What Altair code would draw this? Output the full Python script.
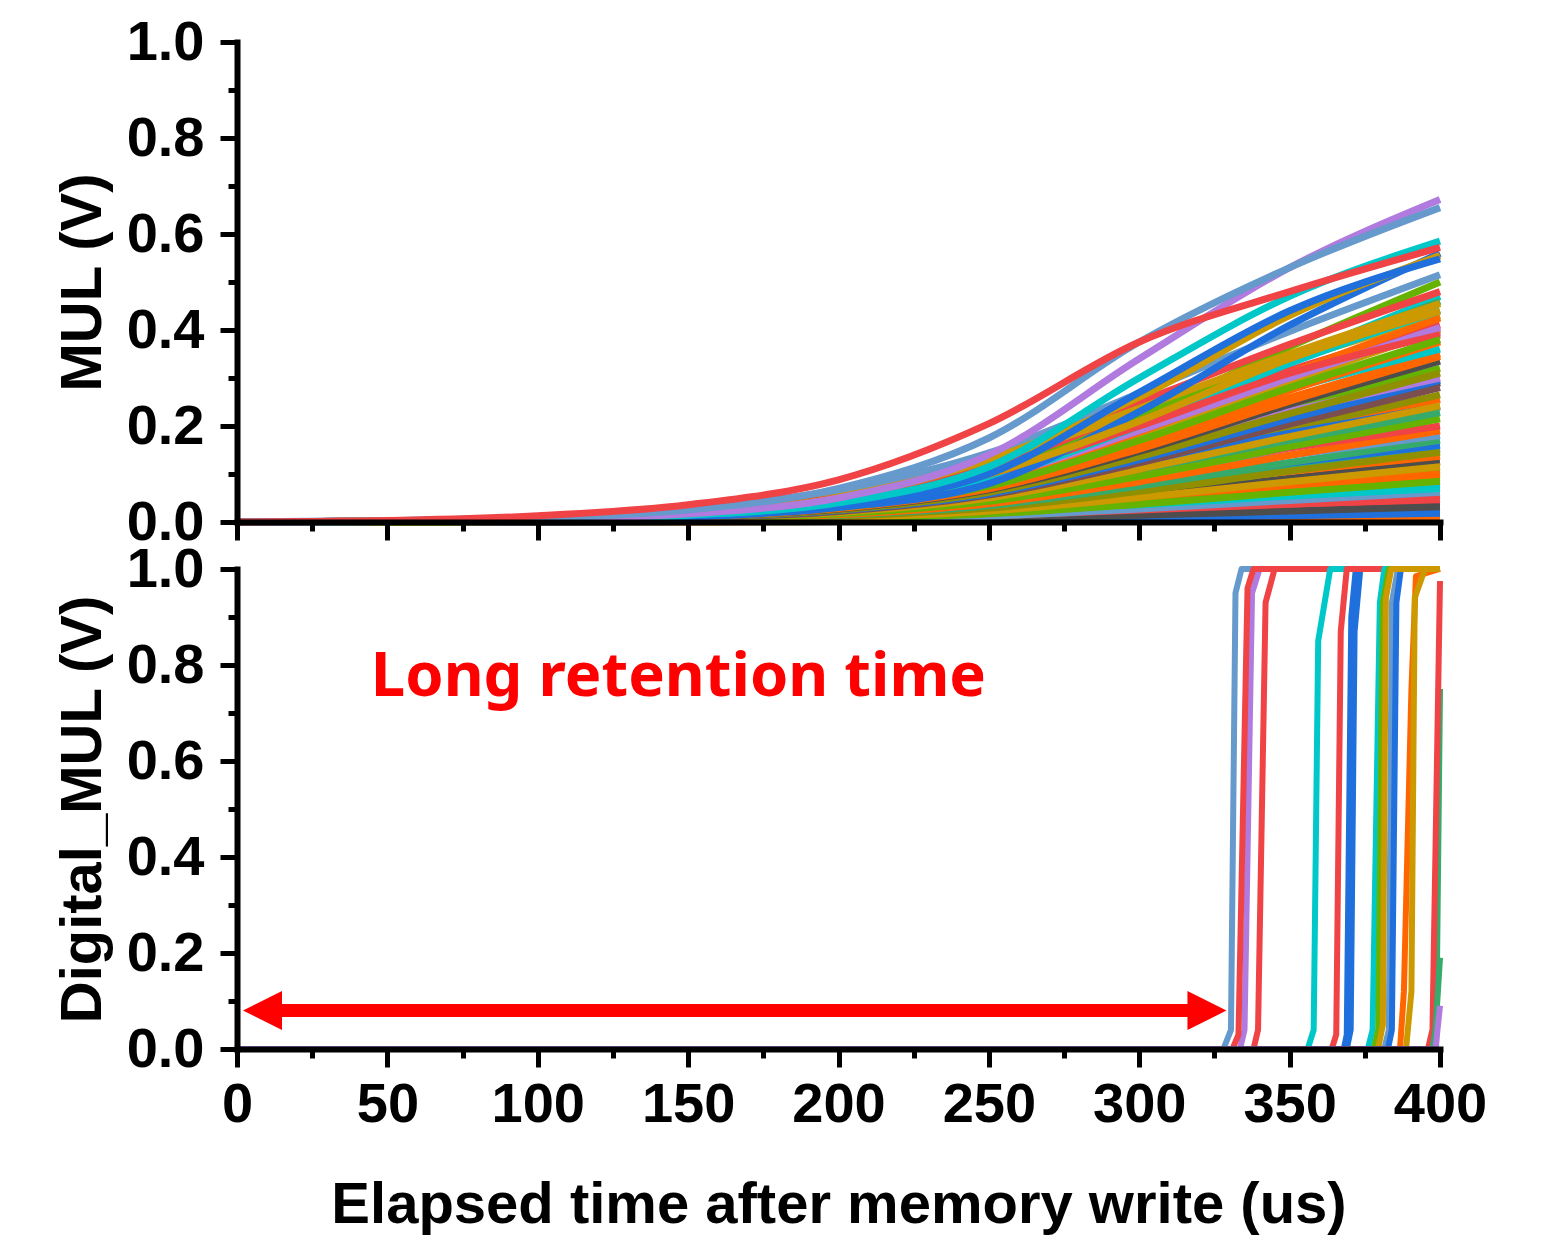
import altair as alt
import pandas as pd

# ---------------- data ----------------
mul_times = [0, 50, 100, 150, 200, 250, 300, 350, 400]

RED, SBLUE, PURPLE, CYAN, BLUE = "#EF4346", "#6699CC", "#B07ADF", "#00C8C8", "#1F6FDD"
GOLD, ORANGE, GREEN, SGREEN = "#CC9900", "#FF6600", "#66B200", "#36AA6A"
DGRAY, OLIVE, BROWN = "#4D4D4D", "#8F8F00", "#7B4F4F"

# colours and values at mul_times — lower curves first, top curves last
mul_colors = [
    SGREEN, CYAN, RED, GOLD, SBLUE, ORANGE, GREEN, DGRAY, ORANGE, SGREEN,
    ORANGE, OLIVE, DGRAY, GREEN, ORANGE, CYAN, GOLD, BLUE,
    ORANGE, BLUE, DGRAY, RED, SBLUE, CYAN, GREEN, ORANGE, GOLD, OLIVE,
    BLUE, SGREEN, SBLUE, ORANGE, RED, GREEN, SGREEN, GOLD, BROWN, BLUE,
    PURPLE, OLIVE, DGRAY, ORANGE, CYAN, ORANGE, PURPLE, GOLD, RED, ORANGE,
    SGREEN, GREEN, RED, PURPLE, GOLD, CYAN, RED, GREEN, SBLUE, BLUE,
    GOLD, GOLD, BLUE, CYAN, PURPLE, SBLUE, RED,
]
mul_values = [
    [0, 0, 0, 0, 0.001, 0.002, 0.005, 0.009, 0.012],
    [0, 0, 0, 0.001, 0.002, 0.005, 0.011, 0.018, 0.025],
    [0, 0, 0.001, 0.002, 0.004, 0.009, 0.018, 0.029, 0.04],
    [0, 0, 0.001, 0.002, 0.005, 0.011, 0.024, 0.04, 0.055],
    [0, 0, 0.001, 0.003, 0.007, 0.016, 0.034, 0.057, 0.078],
    [0, 0, 0.001, 0.004, 0.009, 0.02, 0.041, 0.067, 0.092],
    [0, 0, 0.002, 0.005, 0.012, 0.026, 0.05, 0.08, 0.108],
    [0, 0, 0.001, 0.004, 0.01, 0.025, 0.055, 0.091, 0.125],
    [0, 0.001, 0.003, 0.008, 0.018, 0.038, 0.071, 0.105, 0.137],
    [0, 0, 0.002, 0.005, 0.013, 0.031, 0.067, 0.111, 0.152],
    [0, 0.001, 0.004, 0.012, 0.03, 0.065, 0.12, 0.19, 0.255],
    [0, 0.001, 0.003, 0.008, 0.021, 0.053, 0.117, 0.194, 0.265],
    [0, 0.001, 0.003, 0.008, 0.022, 0.057, 0.127, 0.211, 0.29],
    [0, 0.001, 0.005, 0.015, 0.036, 0.08, 0.155, 0.24, 0.32],
    [0, 0.001, 0.004, 0.011, 0.029, 0.072, 0.158, 0.259, 0.35],
    [0, 0.001, 0.005, 0.015, 0.038, 0.095, 0.205, 0.34, 0.47],
    [0, 0.002, 0.008, 0.022, 0.055, 0.12, 0.225, 0.335, 0.43],
    [0, 0.001, 0.005, 0.013, 0.031, 0.067, 0.124, 0.185, 0.24],
    [0, 0, 0, 0, 0.001, 0.001, 0.003, 0.004, 0.006],
    [0, 0, 0, 0.001, 0.001, 0.004, 0.008, 0.013, 0.018],
    [0, 0, 0, 0.001, 0.003, 0.006, 0.014, 0.023, 0.032],
    [0, 0, 0.001, 0.003, 0.006, 0.013, 0.025, 0.037, 0.048],
    [0, 0, 0.001, 0.002, 0.005, 0.012, 0.027, 0.045, 0.062],
    [0, 0, 0.001, 0.004, 0.009, 0.02, 0.036, 0.054, 0.07],
    [0, 0, 0.001, 0.003, 0.007, 0.017, 0.037, 0.062, 0.085],
    [0, 0, 0.002, 0.006, 0.013, 0.028, 0.052, 0.077, 0.1],
    [0, 0, 0.001, 0.003, 0.009, 0.023, 0.051, 0.084, 0.115],
    [0, 0, 0.001, 0.004, 0.012, 0.029, 0.064, 0.106, 0.145],
    [0, 0.001, 0.003, 0.009, 0.021, 0.045, 0.083, 0.123, 0.16],
    [0, 0, 0.002, 0.005, 0.014, 0.034, 0.075, 0.124, 0.17],
    [0, 0.001, 0.004, 0.01, 0.023, 0.05, 0.094, 0.139, 0.18],
    [0, 0, 0.002, 0.006, 0.015, 0.038, 0.084, 0.139, 0.19],
    [0, 0.001, 0.004, 0.011, 0.026, 0.056, 0.104, 0.154, 0.2],
    [0, 0, 0.002, 0.006, 0.017, 0.043, 0.095, 0.157, 0.215],
    [0, 0.001, 0.005, 0.013, 0.03, 0.06, 0.11, 0.17, 0.228],
    [0, 0.001, 0.003, 0.008, 0.02, 0.05, 0.11, 0.178, 0.242],
    [0, 0.001, 0.003, 0.008, 0.022, 0.056, 0.123, 0.204, 0.28],
    [0, 0.001, 0.003, 0.009, 0.024, 0.059, 0.13, 0.215, 0.295],
    [0, 0.002, 0.006, 0.017, 0.039, 0.084, 0.156, 0.231, 0.3],
    [0, 0.001, 0.003, 0.009, 0.025, 0.062, 0.136, 0.226, 0.31],
    [0, 0.001, 0.003, 0.01, 0.027, 0.067, 0.147, 0.245, 0.335],
    [0, 0.001, 0.003, 0.01, 0.028, 0.069, 0.152, 0.252, 0.345],
    [0, 0.002, 0.007, 0.02, 0.047, 0.101, 0.187, 0.277, 0.36],
    [0, 0.001, 0.004, 0.011, 0.03, 0.075, 0.165, 0.274, 0.375],
    [0, 0.002, 0.008, 0.022, 0.051, 0.111, 0.205, 0.304, 0.395],
    [0, 0.001, 0.004, 0.012, 0.032, 0.08, 0.176, 0.292, 0.4],
    [0, 0.002, 0.008, 0.023, 0.053, 0.115, 0.213, 0.316, 0.41],
    [0, 0.001, 0.004, 0.013, 0.034, 0.085, 0.187, 0.31, 0.425],
    [0, 0.001, 0.005, 0.014, 0.037, 0.092, 0.2, 0.335, 0.46],
    [0, 0.001, 0.005, 0.015, 0.04, 0.1, 0.22, 0.365, 0.5],
    [0, 0.002, 0.01, 0.026, 0.062, 0.134, 0.25, 0.37, 0.48],
    [0, 0.001, 0.005, 0.014, 0.036, 0.09, 0.19, 0.3, 0.405],
    [0, 0.002, 0.009, 0.025, 0.06, 0.128, 0.237, 0.35, 0.455],
    [0, 0.001, 0.005, 0.014, 0.036, 0.09, 0.2, 0.33, 0.44],
    [0, 0.002, 0.008, 0.022, 0.05, 0.1, 0.2, 0.31, 0.39],
    [0, 0.001, 0.004, 0.012, 0.03, 0.075, 0.17, 0.28, 0.38],
    [0, 0.003, 0.01, 0.028, 0.067, 0.144, 0.268, 0.397, 0.515],
    [0, 0.001, 0.003, 0.01, 0.03, 0.08, 0.23, 0.41, 0.56],
    [0, 0.001, 0.005, 0.015, 0.04, 0.1, 0.21, 0.34, 0.44],
    [0, 0.002, 0.007, 0.02, 0.05, 0.13, 0.26, 0.43, 0.555],
    [0, 0.001, 0.004, 0.013, 0.036, 0.1, 0.27, 0.44, 0.548],
    [0, 0.001, 0.004, 0.014, 0.04, 0.115, 0.3, 0.47, 0.585],
    [0, 0.001, 0.005, 0.017, 0.05, 0.14, 0.34, 0.53, 0.672],
    [0, 0.002, 0.008, 0.025, 0.07, 0.175, 0.375, 0.53, 0.655],
    [0, 0.003, 0.013, 0.036, 0.088, 0.205, 0.375, 0.48, 0.572],
]

# Digital_MUL step curves: colour, times, values
dig_colors = [SBLUE, PURPLE, RED, RED, CYAN, BLUE, BLUE, RED, CYAN, GREEN,
              SBLUE, BLUE, ORANGE, GOLD, GOLD, SGREEN, RED, SGREEN, PURPLE]
dig_times = [
    [0, 328, 330.5, 332, 334, 400],
    [0, 333.5, 335, 337.5, 340, 400],
    [0, 331, 333, 336, 338, 400],
    [0, 338, 339.5, 342, 345, 400],
    [0, 356, 358, 359.5, 363.5, 400],
    [0, 368, 369, 370.5, 372, 400],
    [0, 369, 370.3, 371.6, 373.5, 400],
    [0, 364, 365.5, 367, 369, 400],
    [0, 376, 377.6, 380, 381.5, 400],
    [0, 378, 379.5, 381, 383, 400],
    [0, 381.5, 383, 384, 386, 400],
    [0, 382.7, 384, 385.5, 387, 400],
    [0, 386.7, 388, 390.5, 392, 400],
    [0, 379.4, 381, 382, 383.8, 400],
    [0, 388.7, 390.5, 391.6, 395, 400],
    [0, 398.7, 400],
    [0, 396, 397.5, 400],
    [0, 397.5, 398.5, 400],
    [0, 398.5, 400],
]
dig_values = [
    [0, 0, 0.04, 0.95, 1, 1],
    [0, 0, 0.04, 0.95, 1, 1],
    [0, 0, 0.03, 0.96, 1, 1],
    [0, 0, 0.04, 0.93, 1, 1],
    [0, 0, 0.04, 0.85, 1, 1],
    [0, 0, 0.03, 0.9, 1, 1],
    [0, 0, 0.04, 0.87, 1, 1],
    [0, 0, 0.03, 0.87, 1, 1],
    [0, 0, 0.04, 0.93, 1, 1],
    [0, 0, 0.04, 0.93, 1, 1],
    [0, 0, 0.04, 0.93, 1, 1],
    [0, 0, 0.04, 0.93, 1, 1],
    [0, 0, 0.12, 0.75, 0.985, 1],
    [0, 0, 0.05, 0.94, 1, 1],
    [0, 0, 0.12, 0.94, 1, 1],
    [0, 0, 0.75],
    [0, 0, 0.04, 0.975],
    [0, 0, 0.04, 0.19],
    [0, 0, 0.09],
]

note_text = ["Long retention time"]
note_t = [44.5]
note_v = [0.735]
arrow_t = [2.0, 329.0]
arrow_v = [0.08, 0.08]

# ---------------- tables ----------------
mul_rows = []
for i, (c, vals) in enumerate(zip(mul_colors, mul_values)):
    for t, v in zip(mul_times, vals):
        mul_rows.append({"sid": f"s{i:03d}", "t": t, "v": v, "col": c})
mul_df = pd.DataFrame(mul_rows)

dig_rows = []
for i, (c, ts, vs) in enumerate(zip(dig_colors, dig_times, dig_values)):
    for t, v in zip(ts, vs):
        dig_rows.append({"sid": f"d{i:03d}", "t": t, "v": v, "col": c})
dig_df = pd.DataFrame(dig_rows)

note_df = pd.DataFrame({"t": note_t, "v": note_v, "txt": note_text})
arrow_df = pd.DataFrame({"t": [arrow_t[0]], "t2": [arrow_t[1]], "v": [arrow_v[0]]})
left_df = pd.DataFrame({"t": [arrow_t[0]], "v": [arrow_v[0]]})
right_df = pd.DataFrame({"t": [arrow_t[1]], "v": [arrow_v[1]]})

# ---------------- style ----------------
FONT = "Liberation Sans"
W, H = 1203, 480
x_ticks = list(range(0, 401, 25))
y_ticks = [0.0, 0.1, 0.2, 0.3, 0.4, 0.5, 0.6, 0.7, 0.8, 0.9, 1.0]

def x_axis(show_labels):
    kw = dict(
        values=x_ticks,
        tickSize={"condition": {"test": "datum.value % 50 == 0", "value": 18}, "value": 9},
        tickWidth=5, tickColor="black", domainWidth=6, domainColor="black",
        domainCap="square", labelFlush=False, labelOverlap=False, grid=False, zindex=1,
    )
    if show_labels:
        kw.update(labels=True,
                  labelExpr="datum.value % 50 == 0 ? datum.label : ''",
                  labelFont=FONT, labelFontSize=56, labelFontWeight="bold",
                  labelColor="black", labelPadding=10,
                  title="Elapsed time after memory write (us)",
                  titleFont=FONT, titleFontSize=58, titleFontWeight="bold",
                  titleColor="black", titlePadding=44)
    else:
        kw.update(labels=False, title=None)
    return alt.Axis(**kw)

def y_axis(title):
    return alt.Axis(
        values=y_ticks,
        tickSize={"condition": {"test": "round(datum.value*10) % 2 == 0", "value": 17}, "value": 9},
        tickWidth=5, tickColor="black", domainWidth=6, domainColor="black",
        domainCap="square", labelOverlap=False, grid=False, zindex=1,
        labelExpr="round(datum.value*10) % 2 == 0 ? format(datum.value, '.1f') : ''",
        labelFont=FONT, labelFontSize=56, labelFontWeight="bold", labelColor="black",
        labelPadding=16,
        title=title, titleFont=FONT, titleFontSize=58, titleFontWeight="bold",
        titleColor="black", titlePadding=14,
    )

xs = alt.Scale(domain=[0, 400], nice=False, zero=False)
ys = alt.Scale(domain=[0, 1], nice=False)

top = alt.Chart(mul_df).mark_line(strokeWidth=7, interpolate="monotone", strokeJoin="round").encode(
    x=alt.X("t:Q", scale=xs, axis=x_axis(False)),
    y=alt.Y("v:Q", scale=ys, axis=y_axis("MUL (V)")),
    detail="sid:N",
    color=alt.Color("col:N", scale=None),
).properties(width=W, height=H)

dig_lines = alt.Chart(dig_df).mark_line(strokeWidth=6, strokeJoin="round").encode(
    x=alt.X("t:Q", scale=xs, axis=x_axis(True)),
    y=alt.Y("v:Q", scale=ys, axis=y_axis("Digital_MUL (V)")),
    detail="sid:N",
    color=alt.Color("col:N", scale=None),
)

shaft = alt.Chart(arrow_df).mark_rule(color="#FF0000", strokeWidth=13, xOffset=36, x2Offset=-36).encode(
    x="t:Q", x2="t2:Q", y="v:Q")
head_l = alt.Chart(left_df).mark_point(shape="M-1,0L1,-1L1,1Z", filled=True, color="#FF0000",
                                       opacity=1, size=1521, strokeWidth=0, xOffset=19.5).encode(
    x="t:Q", y="v:Q")
head_r = alt.Chart(right_df).mark_point(shape="M1,0L-1,-1L-1,1Z", filled=True, color="#FF0000",
                                        opacity=1, size=1521, strokeWidth=0, xOffset=-19.5).encode(
    x="t:Q", y="v:Q")
note = alt.Chart(note_df).mark_text(font="Noto Sans", fontWeight="bold", fontSize=61.5, color="#FF0000",
                                    align="left", baseline="alphabetic").encode(
    x="t:Q", y="v:Q", text="txt:N")

bottom = alt.layer(dig_lines, shaft, head_l, head_r, note).properties(width=W, height=H)

chart = alt.vconcat(top, bottom, spacing=47, bounds="flush").properties(
    padding={"left": 46, "top": 6, "right": 5, "bottom": 5},
    background="white",
).configure_view(stroke=None, strokeWidth=0)

chart.save("out.html", embed_options={"renderer": "svg", "actions": False})
